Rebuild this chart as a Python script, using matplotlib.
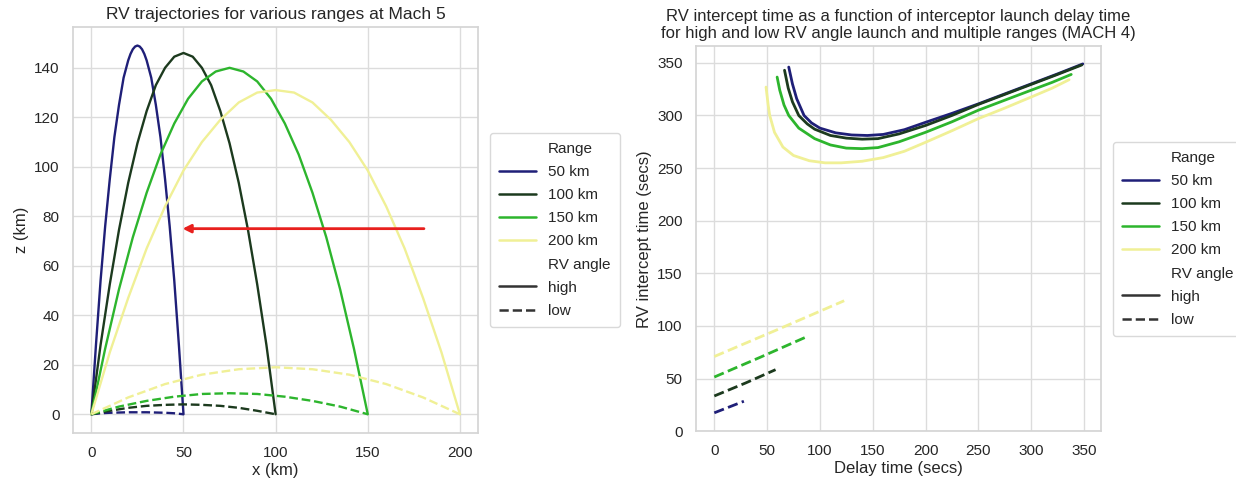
import matplotlib
matplotlib.use("Agg")
import matplotlib.pyplot as plt
import seaborn as sns
from matplotlib.lines import Line2D

sns.set_theme(style="whitegrid")
plt.rcParams["font.family"] = ["Liberation Sans", "DejaVu Sans"]

ranges = ["50 km", "100 km", "150 km", "200 km"]
colors = ["#1f1f78", "#1c3a1e", "#2db52d", "#f0f096"]

# --- trajectories at Mach 5 (x, z in km) ---
x_high_50 = [0, 2.5, 5, 7.5, 10, 12.5, 15, 17.5, 20, 21.25, 22.5, 23.75, 25, 26.25, 27.5, 28.75, 30,
             32.5, 35, 37.5, 40, 42.5, 45, 47.5, 50]
z_high_50 = [0, 28, 54, 76, 95, 112, 125, 136, 143, 145.6, 147.5, 148.6, 149, 148.6, 147.5, 145.6, 143,
             136, 125, 112, 95, 76, 54, 28, 0]
x_high_100 = [0, 5, 10, 15, 20, 25, 30, 35, 40, 45, 50, 55, 60, 65, 70, 75, 80, 85, 90, 95, 100]
z_high_100 = [0, 28, 52.5, 74.5, 93.5, 109.5, 122.5, 133, 140, 144.5, 146, 144.5, 140, 133, 122.5, 109.5, 93.5, 74.5, 52.5, 28, 0]
x_high_150 = [0, 7.5, 15, 22.5, 30, 37.5, 45, 52.5, 60, 67.5, 75, 82.5, 90, 97.5, 105, 112.5, 120, 127.5, 135, 142.5, 150]
z_high_150 = [0, 26.5, 50.5, 71.5, 89.5, 105, 117.5, 127.5, 134.5, 138.5, 140, 138.5, 134.5, 127.5, 117.5, 105, 89.5, 71.5, 50.5, 26.5, 0]
x_high_200 = [0, 10, 20, 30, 40, 50, 60, 70, 80, 90, 100, 110, 120, 130, 140, 150, 160, 170, 180, 190, 200]
z_high_200 = [0, 25, 47, 67, 84, 98.5, 110, 119, 126, 130, 131, 130, 126, 119, 110, 98.5, 84, 67, 47, 25, 0]

x_low_50 = [0, 5, 10, 15, 20, 25, 30, 35, 40, 45, 50]
z_low_50 = [0, 0.4, 0.6, 0.7, 0.8, 0.8, 0.8, 0.7, 0.6, 0.4, 0]
x_low_100 = [0, 10, 20, 30, 40, 50, 60, 70, 80, 90, 100]
z_low_100 = [0, 1.4, 2.6, 3.4, 3.8, 4, 3.8, 3.4, 2.6, 1.4, 0]
x_low_150 = [0, 15, 30, 45, 60, 75, 90, 105, 120, 135, 150]
z_low_150 = [0, 3.1, 5.4, 7.1, 8.2, 8.5, 8.2, 7.1, 5.4, 3.1, 0]
x_low_200 = [0, 20, 40, 60, 80, 100, 120, 140, 160, 180, 200]
z_low_200 = [0, 6.8, 12.2, 16, 18.2, 19, 18.2, 16, 12.2, 6.8, 0]

# --- intercept time vs delay time at Mach 4 (secs) ---
d_high_50 = [70.5, 74, 78, 85, 92, 100, 115, 130, 145, 160, 180, 200, 225, 250, 275, 300, 325, 349]
t_high_50 = [346, 330, 316, 300, 293, 288, 283.5, 281.5, 281, 282, 286.5, 293.5, 302, 311, 320.5, 330, 339.5, 349]
d_high_100 = [66.5, 70, 74, 80, 88, 95, 110, 125, 140, 155, 175, 200, 225, 250, 275, 300, 325, 348]
t_high_100 = [343, 326, 313, 300, 292, 287, 281, 278.5, 277.5, 278, 282.5, 290.5, 300, 310.5, 320, 329.5, 339, 348]
d_high_150 = [59.5, 62, 66, 70.5, 80, 95, 110, 125, 140, 155, 175, 200, 225, 250, 275, 300, 320, 338]
t_high_150 = [336.5, 324, 310, 300, 288, 278, 272, 269, 268.5, 269.5, 275, 284, 294, 305, 314.5, 324, 331.5, 339]
d_high_200 = [49, 51, 52.5, 57, 65, 75, 90, 105, 120, 140, 160, 180, 200, 225, 250, 275, 300, 320, 336]
t_high_200 = [327, 310, 300, 284, 270, 262, 257, 255, 255, 256.5, 260, 266, 274.5, 285.5, 297, 307, 317.5, 326, 334]

d_low_50 = [0, 14, 28]
t_low_50 = [17.5, 23, 28.5]
d_low_100 = [0, 30, 58]
t_low_100 = [33.5, 46, 58.5]
d_low_150 = [0, 44, 88]
t_low_150 = [51.5, 70.5, 90]
d_low_200 = [0, 62, 123]
t_low_200 = [71, 97.5, 124]

traj_high = [(x_high_50, z_high_50), (x_high_100, z_high_100), (x_high_150, z_high_150), (x_high_200, z_high_200)]
traj_low = [(x_low_50, z_low_50), (x_low_100, z_low_100), (x_low_150, z_low_150), (x_low_200, z_low_200)]
icpt_high = [(d_high_50, t_high_50), (d_high_100, t_high_100), (d_high_150, t_high_150), (d_high_200, t_high_200)]
icpt_low = [(d_low_50, t_low_50), (d_low_100, t_low_100), (d_low_150, t_low_150), (d_low_200, t_low_200)]


def add_legend(ax):
    blank = Line2D([], [], linestyle="none")
    handles = [blank] + [Line2D([], [], color=c, lw=1.8) for c in colors]
    handles += [blank, Line2D([], [], color="#333333", lw=1.8),
                Line2D([], [], color="#333333", lw=1.8, ls="--")]
    labels = ["Range"] + ranges + ["RV angle", "high", "low"]
    ax.legend(handles, labels, loc="center left", bbox_to_anchor=(1.01, 0.5),
              fontsize=11, frameon=True, edgecolor="#d0d0d0", handlelength=2.4,
              labelspacing=0.6, borderpad=0.6)


fig = plt.figure(figsize=(12.36, 4.84), dpi=100)
ax1 = fig.add_axes([0.059, 0.106, 0.328, 0.838])
ax2 = fig.add_axes([0.563, 0.109, 0.328, 0.795])

for (x, z), c in zip(traj_high, colors):
    ax1.plot(x, z, color=c, lw=1.7)
for (x, z), c in zip(traj_low, colors):
    ax1.plot(x, z, color=c, lw=1.7, ls="--")
ax1.annotate("", xy=(48, 75), xytext=(182, 75),
             arrowprops=dict(arrowstyle="-|>", color="#e8201e", lw=2, mutation_scale=12))
ax1.set_title("RV trajectories for various ranges at Mach 5", fontsize=12.5)
ax1.set_xlabel("x (km)", fontsize=12, labelpad=2)
ax1.set_ylabel("z (km)", fontsize=12)
ax1.set_xticks([0, 50, 100, 150, 200])
ax1.set_yticks([0, 20, 40, 60, 80, 100, 120, 140])
add_legend(ax1)

for (d, t), c in zip(icpt_high, colors):
    ax2.plot(d, t, color=c, lw=2)
for (d, t), c in zip(icpt_low, colors):
    ax2.plot(d, t, color=c, lw=2, ls="--")
ax2.set_title("RV intercept time as a function of interceptor launch delay time\n"
              "for high and low RV angle launch and multiple ranges (MACH 4)", fontsize=12)
ax2.set_xlabel("Delay time (secs)", fontsize=12, labelpad=2)
ax2.set_ylabel("RV intercept time (secs)", fontsize=12)
ax2.set_xticks([0, 50, 100, 150, 200, 250, 300, 350])
ax2.set_yticks([0, 50, 100, 150, 200, 250, 300, 350])
add_legend(ax2)

for ax in (ax1, ax2):
    ax.tick_params(labelsize=11)
    ax.grid(color="#dcdcdc")
    for s in ax.spines.values():
        s.set_color("#d5d5d5")

fig.savefig("out.png", dpi=100)
